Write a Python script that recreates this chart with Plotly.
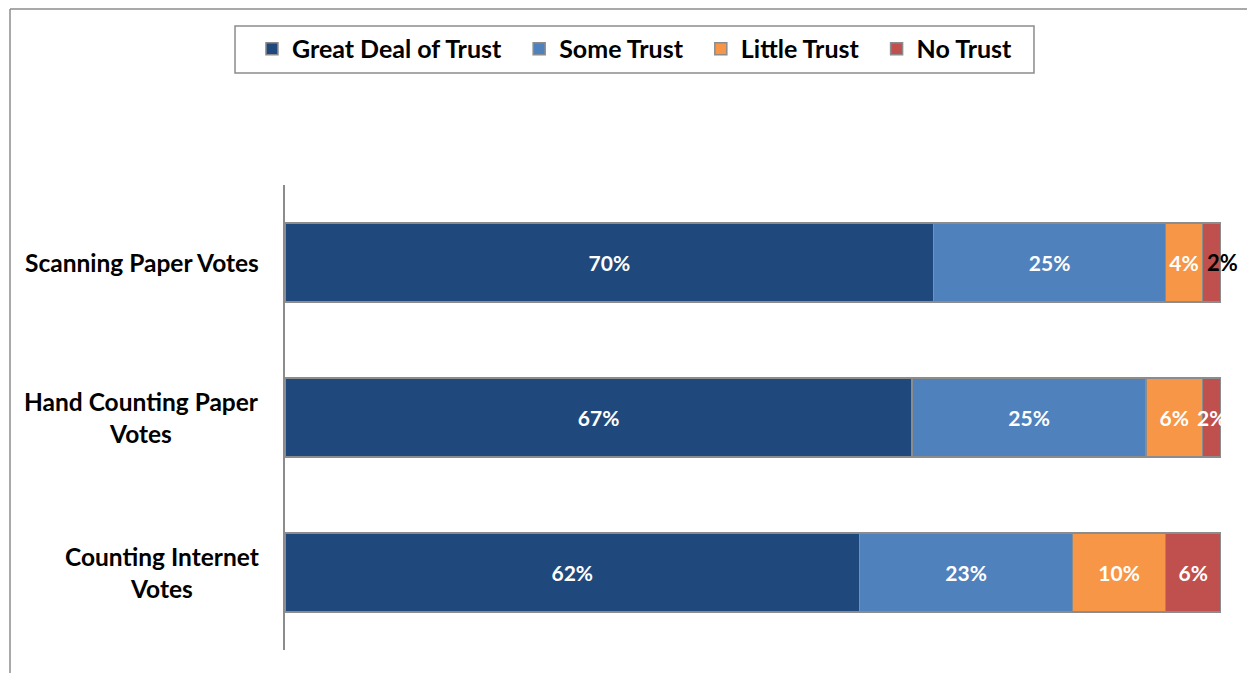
import plotly.graph_objects as go

# Survey responses: trust in each vote-counting method (percent of respondents)
categories = ["Scanning Paper Votes", "Hand Counting Paper Votes", "Counting Internet Votes"]
category_labels = ["Scanning Paper Votes", "Hand Counting Paper<br>Votes", "Counting Internet<br>Votes"]
series_names = ["Great Deal of Trust", "Some Trust", "Little Trust", "No Trust"]
great_deal = [70, 67, 62]
some_trust = [25, 25, 23]
little_trust = [4, 6, 10]
no_trust = [2, 2, 6]

series_values = [great_deal, some_trust, little_trust, no_trust]
colors = ["#1F497D", "#4F81BD", "#F79646", "#C0504D"]
FONT = "Lato, 'Open Sans', sans-serif"
PAD = "\u00a0" * 2  # extra room after each legend entry

fig = go.Figure()
for name, vals, col in zip(series_names, series_values, colors):
    texts = [f"<b>{v}%</b>" for v in vals]
    if name == "No Trust":
        # the first row's label sits past the bar end in black (annotation below)
        texts[0] = ""
    fig.add_trace(go.Bar(
        y=categories, x=vals, name=f"<b>{name}</b>{PAD}", orientation="h",
        marker=dict(color=col, line=dict(color="#8C8C8C", width=1.5)),
        text=texts, textposition="inside", insidetextanchor="middle",
        textangle=0,
        textfont=dict(color="white", size=21, family=FONT),
        constraintext="none", cliponaxis=True,
        width=0.51, hoverinfo="skip",
    ))

# Black outside label for the first row's "No Trust" share, at the end of its bar
first_total = sum(v[0] for v in series_values)
fig.add_annotation(
    x=100 * first_total / first_total, y=categories[0], xref="x", yref="y",
    text=f"<b>{no_trust[0]}%</b>", showarrow=False, xanchor="center", xshift=1,
    font=dict(color="black", size=22, family=FONT),
)

# Category labels, centred line by line
for cat, lab in zip(categories, category_labels):
    fig.add_annotation(
        x=0, y=cat, xref="paper", yref="y", text=f"<b>{lab}</b>",
        showarrow=False, xanchor="right", align="center", xshift=-24,
        font=dict(color="black", size=24.5, family=FONT),
    )

# Outer frame lines (top and left)
fig.add_shape(type="line", xref="paper", yref="paper",
              x0=-0.2938, x1=1.1, y0=1.3785, y1=1.3785,
              line=dict(color="#8C8C8C", width=1.5))
fig.add_shape(type="line", xref="paper", yref="paper",
              x0=-0.2938, x1=-0.2938, y0=1.3785, y1=-0.1,
              line=dict(color="#8C8C8C", width=1.5))
# Legend box
fig.add_shape(type="rect", xref="paper", yref="paper",
              x0=-0.0534, x1=0.8002, y0=1.2409, y1=1.3419,
              line=dict(color="#8C8C8C", width=1.5), fillcolor="white")

fig.update_layout(
    width=1247, height=673,
    margin=dict(l=285, r=26, t=185, b=23),
    barmode="stack", barnorm="percent",
    plot_bgcolor="white", paper_bgcolor="white",
    uniformtext=dict(mode="show", minsize=21),
    font=dict(family=FONT, color="black"),
    showlegend=True,
    legend=dict(
        orientation="h", x=-0.0353, xanchor="left", y=1.342, yanchor="top",
        borderwidth=0, bgcolor="rgba(0,0,0,0)",
        font=dict(size=25, family=FONT, color="black"),
        itemwidth=30, traceorder="normal", itemclick=False,
    ),
    xaxis=dict(range=[0, 100], visible=False, fixedrange=True),
    yaxis=dict(
        categoryorder="array", categoryarray=categories, autorange="reversed",
        showticklabels=False, showgrid=False, zeroline=False, ticks="",
        showline=True, linecolor="#8C8C8C", linewidth=1.5,
    ),
)

fig.write_html("out.html")
